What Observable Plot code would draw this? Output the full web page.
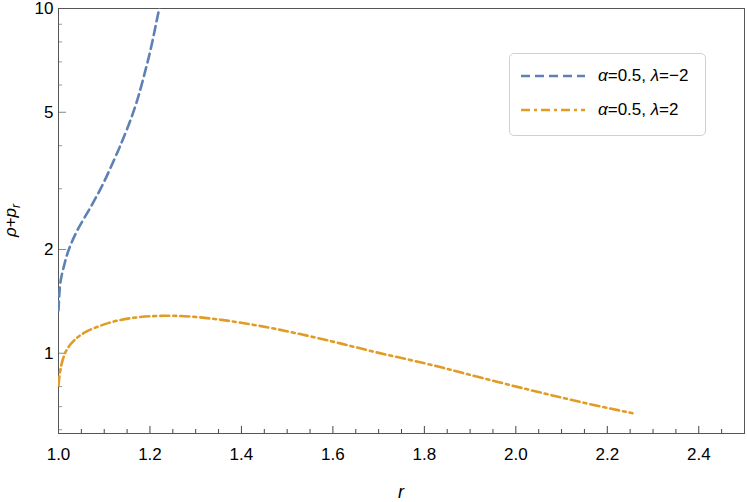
<!DOCTYPE html>
<html><head><meta charset="utf-8">
<script src="https://cdn.jsdelivr.net/npm/d3@7"></script>
<script src="https://cdn.jsdelivr.net/npm/@observablehq/plot@0.6"></script>
<style>
body{margin:0;background:#fff;}
#wrap{position:relative;width:747px;height:502px;font-family:"Liberation Sans",Arial,sans-serif;}
#legend{position:absolute;left:509px;top:53px;width:197px;height:83px;border:1px solid #d0d0d0;border-radius:5px;background:#fff;box-sizing:border-box;}
.row{position:absolute;left:0;height:20px;width:100%;}
.row svg{position:absolute;left:11px;top:0;}
.row span{position:absolute;left:88px;top:0px;font-size:17px;line-height:20px;white-space:nowrap;color:#000;}
</style></head><body><div id="wrap"></div>
<script>
// Series 1: alpha=0.5, lambda=-2
const rBlue = [1.000,1.004,1.011,1.022,1.041,1.070,1.098,1.129,1.140,1.157,1.172,1.186,1.201,1.218,1.2225];
const vBlue = [1.33,1.60,1.77,1.99,2.27,2.65,3.11,3.83,4.15,4.73,5.41,6.31,7.56,9.67,10.3];
// Series 2: alpha=0.5, lambda=2
const rOrange = [1.000,1.004,1.015,1.033,1.055,1.092,1.129,1.172,1.229,1.288,1.347,1.404,1.469,1.544,1.616,1.688,1.762,1.834,1.884,1.959,2.031,2.103,2.177,2.255];
const vOrange = [0.807,0.911,1.02,1.09,1.15,1.205,1.247,1.274,1.288,1.280,1.256,1.224,1.182,1.125,1.069,1.010,0.961,0.913,0.876,0.826,0.782,0.742,0.704,0.670];
const seriesLabels = ["α=0.5, λ=−2", "α=0.5, λ=2"];
const seriesColors = ["#5E81B5", "#E19C24"];
const seriesDash = ["9,5", "9,4,3,4"];
// Ticks
const xMajor = [1.0,1.2,1.4,1.6,1.8,2.0,2.2,2.4];
const xMinor = [1.05,1.1,1.15,1.25,1.3,1.35,1.45,1.5,1.55,1.65,1.7,1.75,1.85,1.9,1.95,2.05,2.1,2.15,2.25,2.3,2.35,2.45];
const yMajor = [1,2,5,10];
const yMinor = [0.6,0.7,0.8,0.9,3,4,6,7,8,9];
const xDomain = [1, 2.5];
const yDomain = [0.585, 10];

const blue = rBlue.map((r,i)=>({r, v:vBlue[i]}));
const orange = rOrange.map((r,i)=>({r, v:vOrange[i]}));

const W=747,H=502,mL=58,mR=3,mT=8,mB=69;
const fw=W-mL-mR, fh=H-mT-mB;
const font = "Liberation Sans, Arial, sans-serif";

const plot = Plot.plot({
  width:W, height:H, marginLeft:mL, marginRight:mR, marginTop:mT, marginBottom:mB,
  style:{fontFamily:font, fontSize:"17px", background:"white", color:"#000", overflow:"visible"},
  x:{domain:xDomain},
  y:{type:"log", domain:yDomain},
  marks:[
    Plot.tickX(xMinor,{x:d=>d, insetTop:fh-4, stroke:"#444"}),
    Plot.tickX(xMajor,{x:d=>d, insetTop:fh-7, stroke:"#444"}),
    Plot.tickY(yMinor,{y:d=>d, insetRight:fw-4, stroke:"#999"}),
    Plot.tickY(yMajor,{y:d=>d, insetRight:fw-8, stroke:"#888"}),
    Plot.axisX(xMajor,{tickSize:0, tickPadding:14, tickFormat:d=>d.toFixed(1), label:null, fontSize:17}),
    Plot.axisY(yMajor,{tickSize:0, tickPadding:5, tickFormat:d=>String(d), label:null, fontSize:17}),
    Plot.frame({stroke:"#555"}),
    Plot.line(blue,{x:"r", y:"v", stroke:seriesColors[0], strokeWidth:2.6, strokeDasharray:seriesDash[0], curve:"catmull-rom", clip:true}),
    Plot.line(orange,{x:"r", y:"v", stroke:seriesColors[1], strokeWidth:2.6, strokeDasharray:seriesDash[1], curve:"basis", clip:true})
  ]
});

const svg = d3.select(plot);
const yl = svg.append("text")
  .attr("transform", `translate(16,${mT+fh/2}) rotate(-90)`)
  .attr("text-anchor","middle").attr("font-size",17).attr("font-family",font).attr("fill","#000");
yl.append("tspan").attr("font-style","italic").text("ρ");
yl.append("tspan").text("+");
yl.append("tspan").attr("font-style","italic").text("p");
yl.append("tspan").attr("font-style","italic").attr("font-size",12).attr("dy",4).text("r");
svg.append("text")
  .attr("x", mL+fw/2).attr("y", 498)
  .attr("text-anchor","middle").attr("font-size",18).attr("font-style","italic")
  .attr("font-family",font).attr("fill","#000").text("r");

const wrap = document.getElementById("wrap");
wrap.appendChild(plot);

const legend = document.createElement("div");
legend.id = "legend";
seriesLabels.forEach((lab,i)=>{
  const row = document.createElement("div");
  row.className = "row";
  row.style.top = (12 + i*34) + "px";
  const html = lab.replace(/([αλ])/g, "<i>$1</i>");
  row.innerHTML = `<svg width="66" height="20"><line x1="0" x2="64" y1="10" y2="10" stroke="${seriesColors[i]}" stroke-width="2.6" stroke-dasharray="${seriesDash[i]}"/></svg><span>${html}</span>`;
  legend.appendChild(row);
});
wrap.appendChild(legend);
</script>
</body></html>
